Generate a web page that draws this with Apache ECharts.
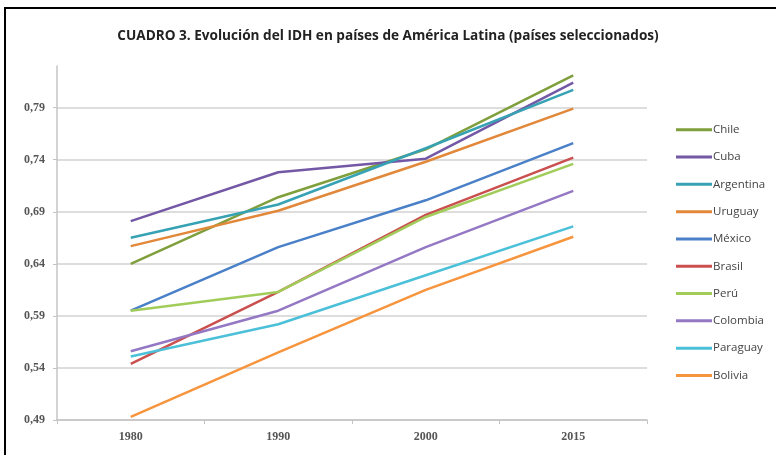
<!DOCTYPE html>
<html>
<head>
<meta charset="utf-8">
<script src="https://cdn.jsdelivr.net/npm/echarts@6/dist/echarts.min.js"></script>
<style>
  html, body { margin: 0; padding: 0; background: #fff; }
  #chart { width: 776px; height: 455px; }
</style>
</head>
<body>
<div id="chart"></div>
<script>
// años (categorías del eje x)
const years = ['1980', '1990', '2000', '2015'];

// valores de ticks del eje y
const yTicks = [0.49, 0.54, 0.59, 0.64, 0.69, 0.74, 0.79];

// IDH por país
const chile     = [0.640, 0.704, 0.750, 0.821];
const cuba      = [0.681, 0.728, 0.741, 0.814];
const argentina = [0.665, 0.697, 0.751, 0.807];
const uruguay   = [0.657, 0.691, 0.738, 0.789];
const mexico    = [0.595, 0.656, 0.701, 0.756];
const brasil    = [0.544, 0.613, 0.687, 0.742];
const peru      = [0.595, 0.613, 0.685, 0.736];
const colombia  = [0.556, 0.595, 0.656, 0.710];
const paraguay  = [0.551, 0.582, 0.629, 0.676];
const bolivia   = [0.493, 0.555, 0.615, 0.666];

const countries = [
  { name: 'Chile', data: chile, color: '#7f9f3c' },
  { name: 'Cuba', data: cuba, color: '#7358a6' },
  { name: 'Argentina', data: argentina, color: '#36a2b4' },
  { name: 'Uruguay', data: uruguay, color: '#e2883a' },
  { name: 'México', data: mexico, color: '#4a80c8' },
  { name: 'Brasil', data: brasil, color: '#c9504e' },
  { name: 'Perú', data: peru, color: '#a2cc5a' },
  { name: 'Colombia', data: colombia, color: '#9478c4' },
  { name: 'Paraguay', data: paraguay, color: '#4cc0d8' },
  { name: 'Bolivia', data: bolivia, color: '#f7953e' },
];

const chart = echarts.init(document.getElementById('chart'));

const labelFont = {
  fontFamily: 'Liberation Serif',
  fontSize: 12,
  fontWeight: 'bold',
  color: '#555',
};

chart.setOption({
  animation: false,
  backgroundColor: '#fff',
  title: {
    text: 'CUADRO 3. Evolución del IDH en países de América Latina (países seleccionados)',
    left: 'center',
    top: 24,
    textStyle: {
      fontFamily: 'Open Sans',
      fontSize: 13.6,
      fontWeight: 'bold',
      color: '#222',
    },
  },
  grid: { left: 57, right: 129, top: 66, bottom: 35 },
  legend: {
    orient: 'vertical',
    left: 671,
    top: 117,
    icon: 'rect',
    itemWidth: 36,
    itemHeight: 3,
    itemGap: 11.8,
    textStyle: { fontFamily: 'Open Sans', fontSize: 11.5, color: '#444', padding: [0, 0, 0, -4], height: 15.5, lineHeight: 15.5 },
    data: countries.map((c) => c.name),
  },
  xAxis: {
    type: 'category',
    data: years,
    boundaryGap: true,
    axisLine: { lineStyle: { color: '#c4c4c4', width: 1.5 } },
    axisTick: { show: true, length: 4, lineStyle: { color: '#c4c4c4' } },
    axisLabel: Object.assign({ margin: 11 }, labelFont),
  },
  yAxis: {
    type: 'value',
    min: 0.49,
    max: 0.83,
    axisLine: { show: true, lineStyle: { color: '#c4c4c4', width: 1.5 } },
    axisTick: { show: true, length: 4, customValues: yTicks, lineStyle: { color: '#c4c4c4' } },
    axisLabel: Object.assign({
      customValues: yTicks,
      margin: 12,
      formatter: (v) => v.toFixed(2).replace('.', ','),
    }, labelFont),
    splitLine: { show: true, lineStyle: { color: '#d2d2d2', width: 1.5 } },
  },
  series: countries.map((c) => ({
    name: c.name,
    type: 'line',
    data: c.data,
    symbol: 'none',
    color: c.color,
    lineStyle: { width: 2.5, color: c.color },
  })),
  graphic: [
    { type: 'line', shape: { x1: 4, y1: 8, x2: 776, y2: 8 }, style: { stroke: '#000', lineWidth: 2 } },
    { type: 'line', shape: { x1: 5, y1: 7, x2: 5, y2: 455 }, style: { stroke: '#000', lineWidth: 2 } },
  ],
});
</script>
</body>
</html>
